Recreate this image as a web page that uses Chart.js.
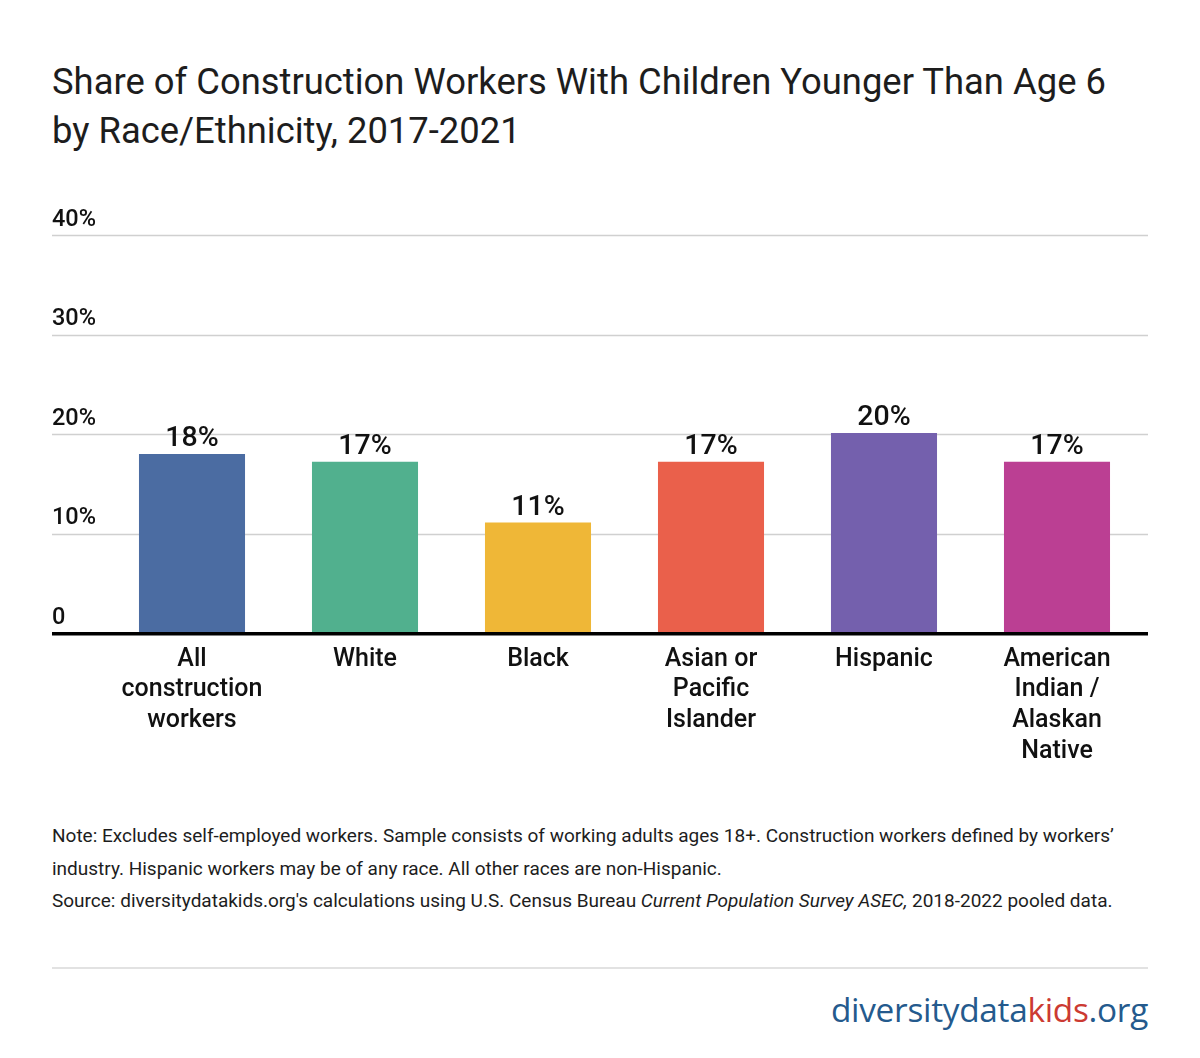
<!DOCTYPE html>
<html>
<head>
<meta charset="utf-8">
<script src="https://cdn.jsdelivr.net/npm/chart.js@4/dist/chart.umd.min.js"></script>
<style>
  html, body { margin: 0; padding: 0; background: #fff; }
  body { width: 1200px; height: 1058px; position: relative; overflow: hidden; font-family: Roboto, "Noto Sans", sans-serif; color: #1d1d1d; }
  #title { position: absolute; left: 52px; top: 57px; font-size: 36.4px; line-height: 49px; font-weight: 400; color: #1d1d1d; white-space: nowrap; }
  #chartWrap { position: absolute; left: 0; top: 0; width: 1200px; height: 800px; }
  #notes { position: absolute; left: 52px; top: 820px; font-size: 19px; line-height: 32.5px; color: #1d1d1d; white-space: nowrap; }
  #sep { position: absolute; left: 52px; top: 967px; width: 1096px; height: 0; border-top: 2px solid #e2e2e2; }
  #logo { position: absolute; right: 52px; top: 987px; font-family: "Open Sans", sans-serif; font-size: 33.4px; line-height: 44px; color: #245a8d; letter-spacing: -0.3px; }
  #logo .kids { color: #cc3a32; }
</style>
</head>
<body>
<div id="title">Share of Construction Workers With Children Younger Than Age 6<br>by Race/Ethnicity, 2017-2021</div>
<div id="chartWrap"><canvas id="c" width="1200" height="800"></canvas></div>
<div id="notes">Note: Excludes self-employed workers. Sample consists of working adults ages 18+. Construction workers defined by workers’<br>industry. Hispanic workers may be of any race. All other races are non-Hispanic.<br>Source: diversitydatakids.org's calculations using U.S. Census Bureau <i>Current Population Survey ASEC,</i> 2018-2022 pooled data.</div>
<div id="sep"></div>
<div id="logo">diversitydata<span class="kids">kids</span>.org</div>
<script>
const categories = [
  ["All", "construction", "workers"],
  ["White"],
  ["Black"],
  ["Asian or", "Pacific", "Islander"],
  ["Hispanic"],
  ["American", "Indian /", "Alaskan", "Native"]
];
const shareValues = [18.0, 17.2, 11.1, 17.2, 20.1, 17.2];
const barColors = ["#4b6ca2", "#51b08e", "#efb737", "#ea604b", "#7460ad", "#bb3f93"];
const yTicks = [0, 10, 20, 30, 40];

const gridPlugin = {
  id: 'fullGrid',
  beforeDatasetsDraw(chart) {
    const ctx = chart.ctx, y = chart.scales.y;
    ctx.save();
    yTicks.forEach(v => {
      if (v === 0) return;
      const py = Math.round(y.getPixelForValue(v)) + 0.5;
      ctx.strokeStyle = '#d0d0d0';
      ctx.lineWidth = 1.5;
      ctx.beginPath(); ctx.moveTo(52, py); ctx.lineTo(1148, py); ctx.stroke();
    });
    ctx.restore();
  },
  afterDatasetsDraw(chart) {
    const ctx = chart.ctx, y = chart.scales.y;
    ctx.save();
    const py = y.getPixelForValue(0);
    ctx.fillStyle = '#000';
    ctx.fillRect(52, py - 1, 1096, 3.5);
    const meta = chart.getDatasetMeta(0);
    ctx.font = '500 28.5px Roboto';
    ctx.fillStyle = '#111';
    ctx.textAlign = 'center';
    ctx.textBaseline = 'alphabetic';
    meta.data.forEach((bar, i) => {
      ctx.fillText(Math.round(shareValues[i]) + '%', bar.x, bar.y - 8);
    });
    ctx.restore();
  }
};

new Chart(document.getElementById('c'), {
  type: 'bar',
  data: {
    labels: categories,
    datasets: [{
      data: shareValues,
      backgroundColor: barColors,
      borderWidth: 0,
      barPercentage: 0.613,
      categoryPercentage: 1.0
    }]
  },
  options: {
    responsive: false,
    animation: false,
    devicePixelRatio: 1,
    layout: { padding: { left: 52, right: 56.5, top: 235, bottom: 27 } },
    plugins: { legend: { display: false }, tooltip: { enabled: false } },
    scales: {
      x: {
        grid: { display: false, drawTicks: false },
        border: { display: false },
        afterFit(s) { s.height = 140; },
        ticks: {
          padding: 11,
          color: '#111',
          font: { family: 'Roboto', size: 25, weight: '500', lineHeight: 1.23 },
          maxRotation: 0, autoSkip: false
        }
      },
      y: {
        min: 0, max: 40,
        grid: { display: false, drawTicks: false },
        border: { display: false },
        afterFit(s) { s.width = 53.5; },
        afterBuildTicks(s) { s.ticks = yTicks.map(v => ({ value: v })); },
        ticks: {
          crossAlign: 'far',
          labelOffset: -15,
          padding: 0,
          color: '#111',
          font: { family: 'Roboto', size: 23.5, weight: '500' },
          callback: v => v === 0 ? '0' : v + '%'
        }
      }
    }
  },
  plugins: [gridPlugin]
});
</script>
</body>
</html>
